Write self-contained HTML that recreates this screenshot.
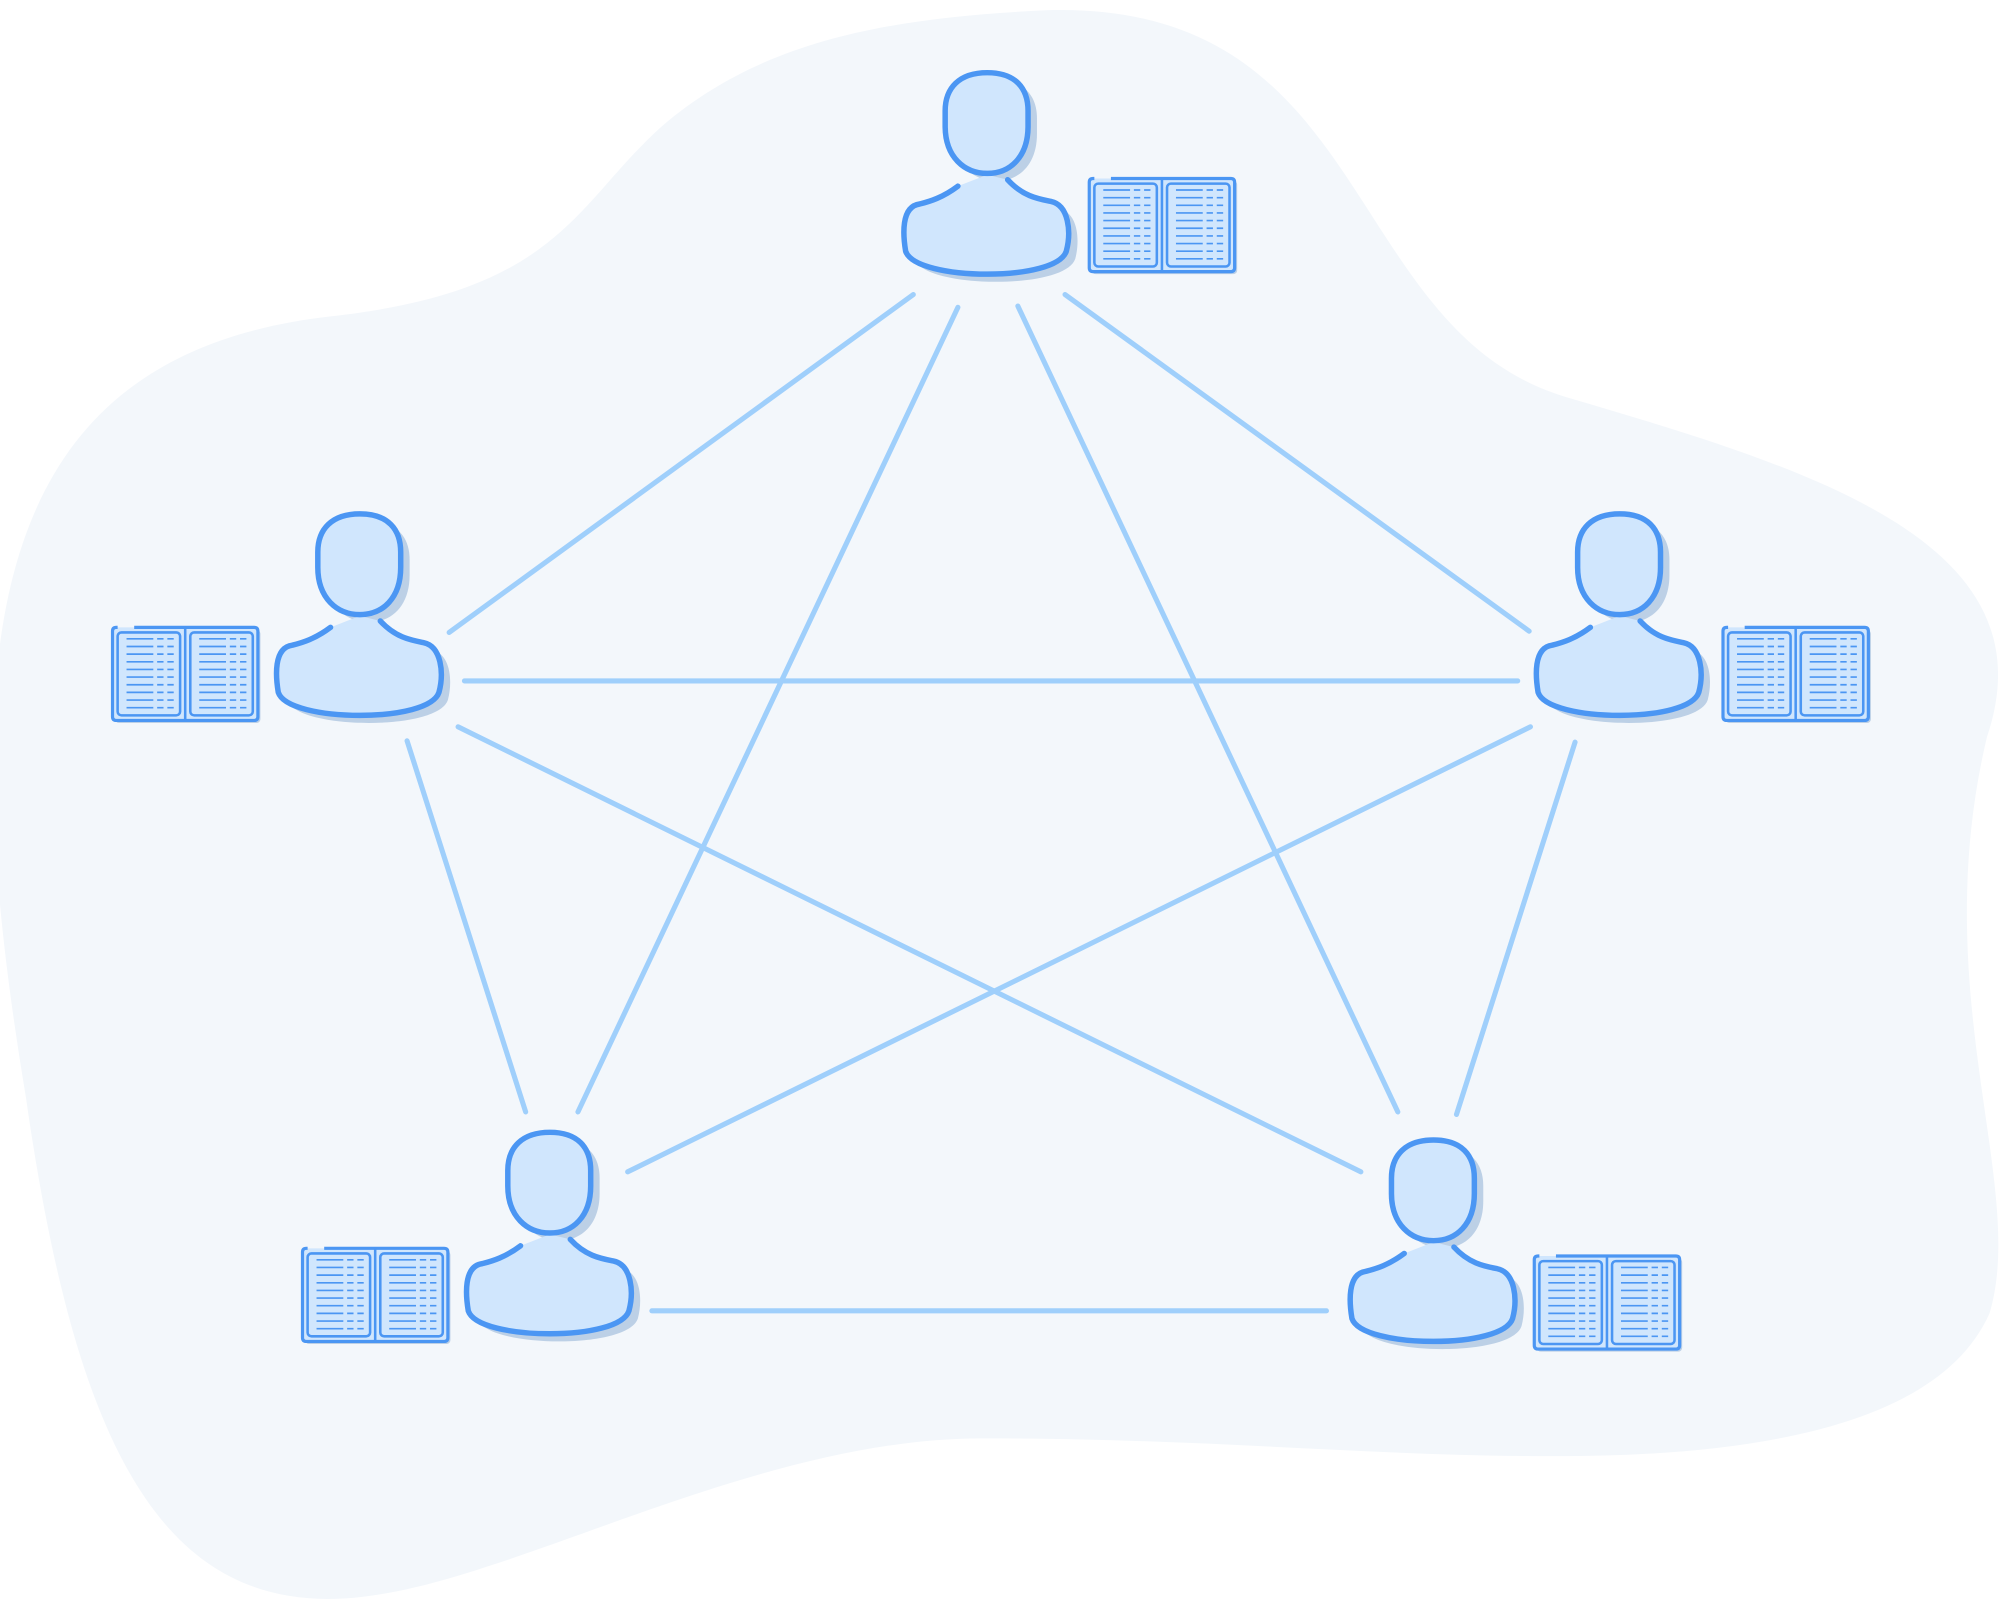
<!DOCTYPE html>
<html><head><meta charset="utf-8"><style>html,body{margin:0;padding:0;background:#fff}svg{display:block}</style></head><body>
<svg width="2000" height="1599" viewBox="0 0 1568 1254" xmlns="http://www.w3.org/2000/svg">
<defs>
<g id="person">
  <g transform="translate(7,6)" fill="#bcd0e6">
    <path d="M0,0 C-22,0 -33,12 -33,30 L-33,42 C-33,66 -18,79 0,79 C18,79 32,66 32,42 L32,30 C32,12 22,0 0,0 Z"/>
    <path d="M-23,89 C-35,98 -45,101 -53,103 C-68,105 -66,128 -64,140 C-60,152 -30,158 0,158 C30,158 58,152 62,140 C66,125 64,104 50,101 C40,99 28,97 16,84 Z"/>
  </g>
  <path d="M-23,89 C-35,98 -45,101 -53,103 C-68,105 -66,128 -64,140 C-60,152 -30,158 0,158 C30,158 58,152 62,140 C66,125 64,104 50,101 C40,99 28,97 16,84 L0,80 Z" fill="#d0e6fd"/>
  <path d="M-23,89 C-35,98 -45,101 -53,103 C-68,105 -66,128 -64,140 C-60,152 -30,158 0,158 C30,158 58,152 62,140 C66,125 64,104 50,101 C40,99 28,97 16,84" fill="none" stroke="#4b96f3" stroke-width="4.3" stroke-linecap="round"/>
  <path d="M0,0 C-22,0 -33,12 -33,30 L-33,42 C-33,66 -18,79 0,79 C18,79 32,66 32,42 L32,30 C32,12 22,0 0,0 Z" fill="#d0e6fd" stroke="#4b96f3" stroke-width="4.3"/>
</g>
<g id="lines">
  <path d="M3,4h21M27,4h5M35,4h5M3,10h21M27,10h5M35,10h5M3,16h21M27,16h5M35,16h5M3,22h21M27,22h5M35,22h5M3,28h21M27,28h5M35,28h5M3,34h21M27,34h5M35,34h5M3,40h21M27,40h5M35,40h5M3,46h21M27,46h5M35,46h5M3,52h21M27,52h5M35,52h5M3,58h21M27,58h5M35,58h5" stroke="#4b96f3" stroke-width="1.3"/>
</g>
<g id="book">
  <rect x="2" y="2" width="114" height="73" rx="3" fill="#bcd0e6"/>
  <rect x="0" y="0" width="114" height="73" rx="3" fill="#d0e6fd"/>
  <path d="M4,0 H3 Q0,0 0,3 V70 Q0,73 3,73 H111 Q114,73 114,70 V3 Q114,0 111,0 H17" fill="none" stroke="#4b96f3" stroke-width="2.5"/>
  <line x1="57" y1="0" x2="57" y2="73" stroke="#4b96f3" stroke-width="2"/>
  <rect x="4" y="4" width="49" height="65" rx="3" fill="none" stroke="#4b96f3" stroke-width="2"/>
  <rect x="61" y="4" width="49" height="65" rx="3" fill="none" stroke="#4b96f3" stroke-width="2"/>
  <use href="#lines" x="8" y="5"/>
  <use href="#lines" x="65" y="5"/>
</g>
</defs>
<path d="M260,248 C440,228 450,160 520,98 C600,30 700,14 820,8 C1080,0 1050,260 1230,312 C1420,368 1610,425 1558,578 C1510,780 1590,930 1560,1030 C1520,1120 1370,1142 1220,1142 C1070,1142 950,1128 770,1128 C600,1128 420,1230 300,1250 C130,1280 60,1140 20,860 C-40,500 -10,278 260,248 Z" fill="#f3f7fb"/>
<g stroke="#9fcffb" stroke-width="4" stroke-linecap="round">
<line x1="716" y1="231" x2="352" y2="496"/>
<line x1="751" y1="241" x2="453" y2="872"/>
<line x1="798" y1="240" x2="1096" y2="872"/>
<line x1="835" y1="231" x2="1199" y2="495"/>
<line x1="364" y1="534" x2="1190" y2="534"/>
<line x1="359" y1="570" x2="1067" y2="919"/>
<line x1="1200" y1="570" x2="492" y2="919"/>
<line x1="319" y1="581" x2="412" y2="872"/>
<line x1="1235" y1="582" x2="1142" y2="874"/>
<line x1="511" y1="1028" x2="1040" y2="1028"/>
</g>
<use href="#person" x="774" y="57"/>
<use href="#person" x="282" y="403"/>
<use href="#person" x="1270" y="403"/>
<use href="#person" x="431" y="888"/>
<use href="#person" x="1124" y="894"/>
<use href="#book" x="854" y="140"/>
<use href="#book" x="88" y="492"/>
<use href="#book" x="1351" y="492"/>
<use href="#book" x="237" y="979"/>
<use href="#book" x="1203" y="985"/>
</svg>
</body></html>
